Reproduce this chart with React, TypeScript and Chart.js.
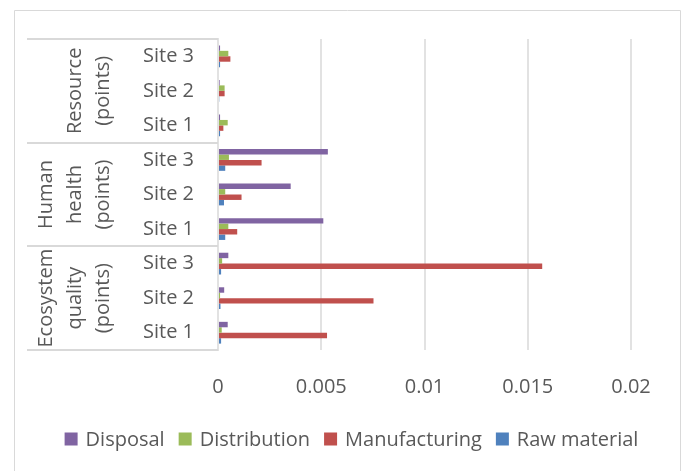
import React, { useEffect, useRef } from "react";
import { Chart, registerables } from "chart.js";

Chart.register(...registerables);

// Categories listed top to bottom
const siteLabels = ["Site 3", "Site 2", "Site 1", "Site 3", "Site 2", "Site 1", "Site 3", "Site 2", "Site 1"];
const groupLabels = [
  ["Resource", "(points)"],
  ["Human", "health", "(points)"],
  ["Ecosystem", "quality", "(points)"],
];
const groupSizes = [3, 3, 3];

const seriesNames = ["Disposal", "Distribution", "Manufacturing", "Raw material"];
const seriesColors = ["#8064A2", "#9BBB59", "#C0504D", "#4F81BD"];

const disposal = [0.0001, 0.00008, 0.0001, 0.00532, 0.00352, 0.0051, 0.0005, 0.0003, 0.00047];
const distribution = [0.0005, 0.00032, 0.00047, 0.00053, 0.00035, 0.0005, 0.0002, 0.0001, 0.00018];
const manufacturing = [0.0006, 0.00032, 0.00026, 0.00211, 0.00114, 0.00093, 0.0157, 0.00753, 0.00528];
const rawMaterial = [0.0001, 0.00006, 0.0001, 0.00035, 0.00029, 0.00035, 0.00015, 0.00012, 0.00015];

const xTickLabels = ["0", "0.005", "0.01", "0.015", "0.02"];
const xMin = 0;
const xMax = 0.02;
const xStep = 0.005;

const FONT = "'Open Sans', sans-serif";
const TEXT = "#595959";
const LINE = "#d9d9d9";

const decorPlugin = {
  id: "decor",
  beforeDraw(chart: any) {
    const ctx = chart.ctx;
    ctx.save();
    ctx.strokeStyle = LINE;
    ctx.lineWidth = 1;
    ctx.beginPath();
    ctx.moveTo(14.5, chart.height + 5);
    ctx.lineTo(14.5, 10.5);
    ctx.lineTo(680.5, 10.5);
    ctx.lineTo(680.5, chart.height + 5);
    ctx.stroke();
    ctx.restore();
  },
  afterDraw(chart: any) {
    const ctx = chart.ctx;
    const area = chart.chartArea;
    const y = chart.scales.y;
    ctx.save();
    // group table lines
    const bounds: number[] = [area.top];
    let idx = 0;
    groupSizes.forEach((n, gi) => {
      idx += n;
      if (gi < groupSizes.length - 1) {
        bounds.push((y.getPixelForValue(idx - 1) + y.getPixelForValue(idx)) / 2);
      }
    });
    bounds.push(area.bottom);
    ctx.strokeStyle = LINE;
    ctx.lineWidth = 2;
    bounds.forEach((b) => {
      ctx.beginPath();
      ctx.moveTo(27, Math.round(b));
      ctx.lineTo(area.left, Math.round(b));
      ctx.stroke();
    });
    // group labels (rotated)
    ctx.fillStyle = TEXT;
    ctx.font = `20px ${FONT}`;
    ctx.textAlign = "center";
    ctx.textBaseline = "alphabetic";
    groupLabels.forEach((lines, gi) => {
      const cy = (bounds[gi] + bounds[gi + 1]) / 2;
      const lastBaseline = 109;
      const lh = 28.5;
      lines.forEach((line, li) => {
        const bx = lastBaseline - (lines.length - 1 - li) * lh;
        ctx.save();
        ctx.translate(bx, cy);
        ctx.rotate(-Math.PI / 2);
        ctx.fillText(line, 0, 0);
        ctx.restore();
      });
    });
    // legend
    ctx.font = `20px ${FONT}`;
    ctx.textAlign = "left";
    ctx.textBaseline = "middle";
    const box = 13;
    const gapBox = 8;
    const gapItem = 14;
    const items = chart.data.datasets.map((d: any) => ({
      label: d.label,
      color: d.backgroundColor,
      w: ctx.measureText(d.label).width,
    }));
    const total = items.reduce((s: number, it: any) => s + box + gapBox + it.w, 0) + gapItem * (items.length - 1);
    let x = 351.5 - total / 2;
    const ly = 439;
    items.forEach((it: any) => {
      ctx.fillStyle = it.color;
      ctx.fillRect(x, ly - box / 2, box, box);
      ctx.fillStyle = TEXT;
      ctx.fillText(it.label, x + box + gapBox, ly + 1);
      x += box + gapBox + it.w + gapItem;
    });
    ctx.restore();
  },
};

export default function App() {
  const ref = useRef<HTMLCanvasElement | null>(null);
  useEffect(() => {
    if (!ref.current) return;
    const values = [disposal, distribution, manufacturing, rawMaterial];
    const chart = new Chart(ref.current, {
      type: "bar",
      data: {
        labels: siteLabels,
        datasets: seriesNames.map((name, i) => ({
          label: name,
          data: values[i],
          backgroundColor: seriesColors[i],
          borderWidth: 0,
          categoryPercentage: 0.63,
          barPercentage: 1.0,
        })),
      },
      options: {
        indexAxis: "y",
        responsive: false,
        animation: false,
        layout: { padding: { top: 39, right: 52, bottom: 47, left: 0 } },
        plugins: { legend: { display: false }, tooltip: { enabled: false } },
        scales: {
          x: {
            min: xMin,
            max: xMax,
            ticks: {
              stepSize: xStep,
              padding: 25,
              maxRotation: 0,
              color: TEXT,
              font: { family: FONT, size: 20 },
              callback: (_v: any, i: number) => xTickLabels[i],
            },
            grid: { color: "#e2e2e2", lineWidth: 2, drawTicks: false },
            border: { display: false },
          },
          y: {
            ticks: {
              padding: 24,
              color: TEXT,
              font: { family: FONT, size: 20 },
            },
            grid: { display: false, drawTicks: false },
            border: { display: true, color: "#e2e2e2", width: 2 },
            afterFit: (s: any) => {
              s.width = 218;
            },
          },
        },
      },
      plugins: [decorPlugin],
    } as any);
    return () => chart.destroy();
  }, []);
  return (
    <div style={{ position: "absolute", left: 0, top: 0, width: 683, height: 471, background: "#fff" }}>
      <canvas ref={ref} width={683} height={471} style={{ display: "block" }} />
    </div>
  );
}
